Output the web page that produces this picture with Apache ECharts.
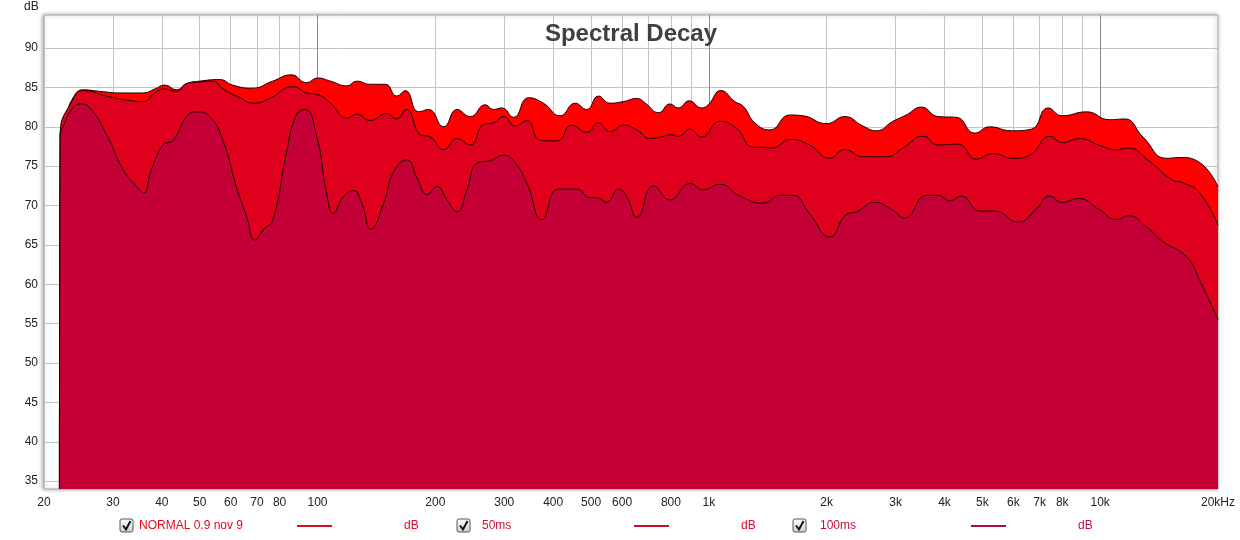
<!DOCTYPE html>
<html>
<head>
<meta charset="utf-8">
<script src="https://cdn.jsdelivr.net/npm/echarts@6/dist/echarts.min.js"></script>
<style>
html,body{margin:0;padding:0;background:#fff;}
#chart{width:1240px;height:540px;}
</style>
</head>
<body>
<div id="chart"></div>
<script>
// ---- data (frequency in Hz, level in dB) ----
const freqTop = [21.9, 22.0, 22.6, 23.8, 25.2, 27.8, 31.3, 35.8, 38.4, 40.7, 43.6, 46.3, 50, 56.2, 60.7, 67.9, 76.8, 85.7, 93.8, 100, 108, 118.8, 126, 136.3, 148.9, 159.5, 167.6, 181.3, 192.3, 210, 227.2, 245.7, 268.3, 281.7, 296, 316.9, 346, 377.8, 416.8, 455, 487.5, 522, 559, 604, 655, 688, 744, 795, 835, 891, 958, 996, 1073, 1165, 1224, 1311, 1432, 1609, 1740, 2000, 2224, 2476, 2680, 2953, 3195, 3494, 3852, 4293, 4779, 5219, 5930, 6670, 7355, 8000, 9220, 10575, 11551, 12864, 14762, 15970, 17780, 20000];
const dbTop = [34.0, 79.0, 80.9, 83.8, 84.7, 84.5, 84.3, 84.3, 84.8, 85.3, 84.7, 85.5, 85.8, 86.0, 85.3, 84.9, 85.8, 86.6, 85.6, 86.2, 85.8, 85.2, 85.8, 85.4, 85.4, 83.9, 84.6, 81.9, 82.2, 80.0, 82.2, 81.3, 82.8, 82.2, 82.4, 81.2, 83.7, 83.0, 81.4, 83.0, 82.2, 83.9, 83.0, 83.2, 83.6, 83.0, 81.8, 82.9, 82.4, 83.3, 82.4, 82.8, 84.6, 83.2, 82.6, 80.5, 79.6, 81.5, 81.4, 80.4, 81.3, 80.1, 79.5, 80.7, 81.5, 82.5, 81.3, 81.2, 79.2, 80.0, 79.5, 79.7, 82.4, 81.4, 81.9, 80.9, 81.0, 78.7, 76.0, 76.1, 75.6, 72.4];

const freqMid = [21.9, 22.0, 23.8, 25.2, 28.9, 32.5, 35.9, 38.4, 40.7, 43.6, 46.3, 50, 53.6, 57.9, 63.3, 68.5, 75.4, 86.5, 93.8, 100, 108, 118.8, 126, 136.3, 150.3, 159, 168.6, 183.1, 194.2, 210, 227.2, 245.7, 265.6, 281.7, 298.8, 320, 342.9, 370.5, 408.8, 446.3, 487.5, 522, 559, 604, 655, 708, 751, 803, 835, 895, 958, 1067, 1177, 1298, 1376, 1444, 1622, 1807, 2039, 2224, 2476, 2840, 3132, 3527, 3852, 4334, 4827, 5322, 5986, 6604, 7429, 8000, 8863, 10000, 11000, 11777, 13381, 15348, 16279, 17958, 20000];
const dbMid = [34.0, 79.0, 83.6, 84.6, 83.9, 83.4, 83.2, 84.3, 84.8, 84.5, 85.5, 85.7, 85.8, 84.7, 83.7, 83.0, 83.6, 85.1, 84.3, 84.1, 83.0, 81.1, 81.6, 80.8, 81.7, 81.0, 82.2, 79.0, 78.7, 77.1, 78.5, 77.7, 80.3, 80.5, 81.3, 80.1, 80.8, 78.3, 78.2, 80.2, 79.3, 80.5, 79.4, 80.2, 79.6, 78.5, 78.7, 79.0, 78.8, 79.7, 78.7, 80.7, 79.8, 77.4, 77.4, 77.3, 78.4, 77.7, 76.0, 77.1, 76.2, 76.2, 77.3, 78.8, 77.7, 77.8, 75.9, 76.6, 76.0, 76.4, 78.8, 78.0, 78.5, 77.6, 77.1, 77.3, 75.6, 73.2, 72.9, 71.6, 67.5];

const freqLow = [21.9, 22.0, 22.6, 23.5, 24.7, 26.2, 28.9, 31.9, 34.5, 35.9, 37.6, 40.3, 42.8, 46.3, 49.0, 53.0, 57.3, 62.0, 65.9, 69.2, 72.6, 76.9, 83.2, 88.3, 92.9, 99.5, 105.5, 109.7, 116.4, 123.6, 129.7, 136.9, 147.6, 156.6, 169.3, 179.6, 190.5, 202, 214.3, 227.2, 241, 255.6, 276.3, 298.8, 316.9, 342.9, 374.5, 412.7, 459.7, 497, 517, 548, 588, 616.8, 655, 722, 795, 895, 967, 1067, 1200, 1376, 1528, 1640, 1807, 2039, 2250, 2386, 2651, 2953, 3165, 3598, 3852, 4127, 4420, 4921, 5375, 6165, 6870, 7429, 8000, 8775, 10000, 11000, 11777, 13124, 14471, 16621, 17958, 20000];
const dbLow = [34.0, 78.8, 80.5, 82.2, 82.9, 82.4, 79.0, 74.5, 72.4, 71.6, 74.5, 77.7, 78.3, 81.3, 81.9, 81.3, 78.3, 72.4, 68.6, 65.6, 66.9, 68.2, 76.6, 81.5, 82.2, 78.8, 71.6, 69.0, 71.1, 71.9, 70.3, 67.0, 70.3, 74.3, 75.8, 73.5, 71.4, 72.4, 70.7, 69.2, 72.0, 75.4, 75.7, 76.4, 75.7, 72.8, 68.2, 72.1, 72.1, 71.0, 71.0, 70.4, 72.1, 71.1, 68.5, 72.5, 70.7, 72.8, 72.0, 72.7, 71.2, 70.3, 71.3, 71.3, 69.0, 66.0, 68.9, 69.2, 70.4, 69.4, 68.4, 71.3, 71.3, 70.6, 71.2, 69.3, 69.3, 67.9, 69.6, 71.2, 70.4, 70.9, 69.4, 68.2, 68.7, 67.3, 65.4, 63.5, 60.5, 55.5];

const seriesNames = ['NORMAL 0.9 nov 9', '50ms', '100ms'];
const gridFreqs = [20,30,40,50,60,70,80,90,100,200,300,400,500,600,700,800,900,1000,2000,3000,4000,5000,6000,7000,8000,9000,10000,20000];
const labelFreqs = [20,30,40,50,60,70,80,100,200,300,400,500,600,800,1000,2000,3000,4000,5000,6000,7000,8000,10000,20000];
const decadeFreqs = [100,1000,10000];
const yTicks = [35,40,45,50,55,60,65,70,75,80,85,90];

// ---- chart ----
const lg = Math.log10;
const toData = (fs, ds) => fs.map((f, i) => [lg(f), ds[i]]);
function fmtFreq(v) {
  const f = Math.round(Math.pow(10, v));
  if (f >= 20000) return '20kHz';
  if (f >= 1000) return (f / 1000) + 'k';
  return String(f);
}

const chart = echarts.init(document.getElementById('chart'), null, {renderer: 'canvas'});
const FONT = 'Liberation Sans, Arial, sans-serif';

function mkSeries(name, fs, ds, color, z) {
  return {
    name: name, type: 'line', data: toData(fs, ds),
    smooth: 0.5, symbol: 'none', z: z,
    lineStyle: {color: '#1a0000', width: 1},
    areaStyle: {color: color, opacity: 1, origin: 'start'},
    silent: true, animation: false
  };
}

function checkbox(x, y) {
  return [
    {type: 'rect', shape: {x: x, y: y, width: 13, height: 13, r: 2},
      style: {fill: new echarts.graphic.LinearGradient(0,0,0,1,[{offset:0,color:'#ffffff'},{offset:1,color:'#cfcfcf'}]), stroke: '#555', lineWidth: 1}},
    {type: 'polyline', shape: {points: [[x+3, y+6.5], [x+6, y+10.5], [x+10.5, y+2]]},
      style: {stroke: '#111', lineWidth: 2, fill: null}}
  ];
}
function legendItem(cx, textX, text, tcolor, lineX, lcolor, dbX) {
  return [].concat(checkbox(cx, 519), [
    {type: 'text', style: {x: textX, y: 526, text: text, fill: tcolor, font: '12px ' + FONT, textVerticalAlign: 'middle'}},
    {type: 'line', shape: {x1: lineX, y1: 526, x2: lineX + 35, y2: 526}, style: {stroke: lcolor, lineWidth: 2}},
    {type: 'text', style: {x: dbX, y: 526, text: 'dB', fill: tcolor, font: '12px ' + FONT, textVerticalAlign: 'middle'}}
  ]);
}

const option = {
  animation: false,
  backgroundColor: '#ffffff',
  grid: {
    left: 44, right: 22, top: 15, bottom: 51, show: true,
    backgroundColor: '#ffffff', borderColor: '#a8a8a8', borderWidth: 1,
    shadowColor: 'rgba(0,0,0,0.35)', shadowBlur: 4, shadowOffsetX: -1, shadowOffsetY: 0
  },
  xAxis: {
    type: 'value', min: lg(20), max: lg(20000),
    axisLine: {show: false},
    axisTick: {show: false, customValues: gridFreqs.map(lg)},
    splitLine: {show: true, lineStyle: {color: '#c4c4c4', width: 1}},
    axisLabel: {customValues: labelFreqs.map(lg), formatter: fmtFreq, color: '#222', fontSize: 12, fontFamily: FONT, margin: 8}
  },
  yAxis: {
    type: 'value', min: 34, max: 94.2,
    axisLine: {show: false},
    axisTick: {show: false, customValues: yTicks},
    splitLine: {show: true, lineStyle: {color: '#c4c4c4', width: 1}},
    axisLabel: {customValues: yTicks, color: '#222', fontSize: 12, fontFamily: FONT, margin: 6}
  },
  series: [
    {
      type: 'line', data: [], z: 1, silent: true,
      markLine: {
        silent: true, symbol: 'none', z: 1, animation: false,
        label: {show: false},
        lineStyle: {color: '#8a8a8a', width: 1, type: 'solid'},
        data: decadeFreqs.map(f => ({xAxis: lg(f)}))
      }
    },
    mkSeries(seriesNames[0], freqTop, dbTop, '#fe0000', 2),
    mkSeries(seriesNames[1], freqMid, dbMid, '#df001d', 3),
    mkSeries(seriesNames[2], freqLow, dbLow, '#c50036', 4)
  ],
  graphic: [
    {type: 'text', z: 10, style: {x: 631, y: 34, text: 'Spectral Decay', fill: '#404040', font: 'bold 24px ' + FONT, textAlign: 'center', textVerticalAlign: 'middle'}},
    {type: 'text', style: {x: 24, y: 7, text: 'dB', fill: '#222', font: '12px ' + FONT, textVerticalAlign: 'middle'}}
  ].concat(
    legendItem(120, 139, seriesNames[0], '#e5081e', 297, '#d2101e', 404),
    legendItem(457, 482, seriesNames[1], '#d2102e', 634, '#c2102c', 741),
    legendItem(793, 820, seriesNames[2], '#c0103a', 971, '#a8103a', 1078)
  )
};
chart.setOption(option);
</script>
</body>
</html>
